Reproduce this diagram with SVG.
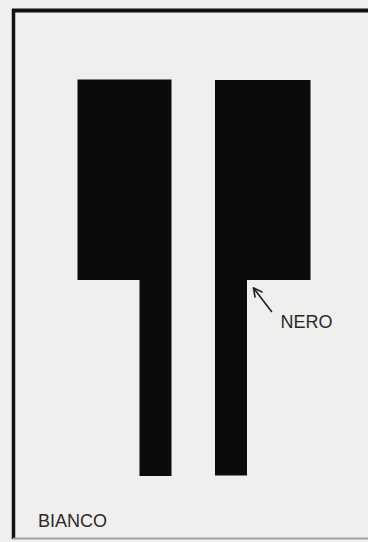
<svg xmlns="http://www.w3.org/2000/svg" width="368" height="542" viewBox="0 0 368 542">
<style>
.shape{fill:#0b0b0b}
.lbl{font-family:"Liberation Sans",Arial,sans-serif;font-size:18px;fill:#2a2a2a}
.arr{stroke:#222;stroke-width:1.6;fill:none;stroke-linecap:round}
</style>
<rect width="368" height="542" fill="#efefee"/>
<g id="frame">
<line x1="12" y1="10.5" x2="368" y2="10.5" stroke="#111" stroke-width="4"/>
<line x1="13.5" y1="9" x2="13.5" y2="539" stroke="#111" stroke-width="3.5"/>
<line x1="13" y1="538.5" x2="368" y2="538.5" stroke="#9aa0b0" stroke-width="2"/>
</g>
<g id="left-shape"><path class="shape" d="M77.5,79.5 H171.5 V476 H139.5 V280 H77.5 Z"/></g>
<g id="right-shape"><path class="shape" d="M215,80 H310.5 V280 H247 V475.5 H215 Z"/></g>
<g id="connectors">
<path class="arr" d="M271.5,311.5 L253.5,288"/>
<path class="arr" d="M253.5,288 L255,297 M253.5,288 L262,292"/>
</g>
<g id="nero"><text class="lbl" x="280.5" y="327.5">NERO</text></g>
<g id="bianco"><text class="lbl" x="38" y="526.5">BIANCO</text></g>
</svg>
